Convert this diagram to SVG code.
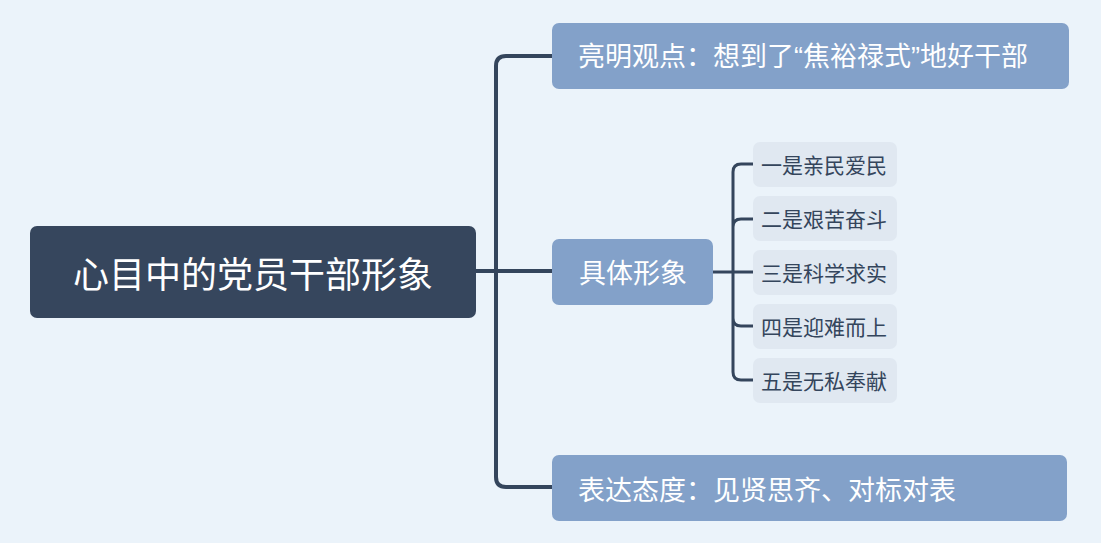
<svg xmlns="http://www.w3.org/2000/svg" width="1101" height="543" viewBox="0 0 1101 543">
<style>
.t{font-family:"Noto Sans CJK SC","Noto Sans",sans-serif}
.q{font-family:"Liberation Sans",sans-serif}
.main{fill:#83A1C9}
.leaf{fill:#E0E8F1}
.wt{fill:#FFFFFF;font-size:27px}
.lt{fill:#34455C;font-size:21px}
.c{fill:none;stroke:#34455C;stroke-linecap:round}
</style>
<rect width="1101" height="543" fill="#EBF3FA"/>
<g id="connectors">
<path class="c" stroke-width="4" d="M476 271 H552 M552 56 H506 Q496 56 496 66 V477 Q496 487 506 487 H552"/>
<path class="c" stroke-width="3" d="M713 272 H753 M753 164 H741 Q733 164 733 172 V372 Q733 380 741 380 H753 M733 227 Q733 219 741 219 H753 M733 318 Q733 326 741 326 H753"/>
</g>
<g id="root">
<rect x="30" y="226" width="446" height="92" rx="7" fill="#36465D"/>
<text class="t" x="253" y="288" font-size="36" fill="#FFFFFF" text-anchor="middle">心目中的党员干部形象</text>
</g>
<g id="n1">
<rect class="main" x="552" y="23" width="517" height="66" rx="7"/>
<text class="t wt" x="578" y="66">亮明观点：想到了<tspan class="q">“</tspan>焦裕禄式<tspan class="q">”</tspan>地好干部</text>
</g>
<g id="n2">
<rect class="main" x="552" y="239" width="161" height="66" rx="7"/>
<text class="t wt" x="633" y="283" text-anchor="middle">具体形象</text>
</g>
<g id="n3">
<rect class="main" x="552" y="455" width="515" height="66" rx="7"/>
<text class="t wt" x="578" y="500">表达态度：见贤思齐、对标对表</text>
</g>
<g id="l1"><rect class="leaf" x="753" y="142" width="144" height="45" rx="7"/><text class="t lt" x="761" y="173">一是亲民爱民</text></g>
<g id="l2"><rect class="leaf" x="753" y="196" width="144" height="45" rx="7"/><text class="t lt" x="761" y="227">二是艰苦奋斗</text></g>
<g id="l3"><rect class="leaf" x="753" y="250" width="144" height="45" rx="7"/><text class="t lt" x="761" y="281">三是科学求实</text></g>
<g id="l4"><rect class="leaf" x="753" y="304" width="144" height="45" rx="7"/><text class="t lt" x="761" y="335">四是迎难而上</text></g>
<g id="l5"><rect class="leaf" x="753" y="358" width="144" height="45" rx="7"/><text class="t lt" x="761" y="389">五是无私奉献</text></g>
</svg>
